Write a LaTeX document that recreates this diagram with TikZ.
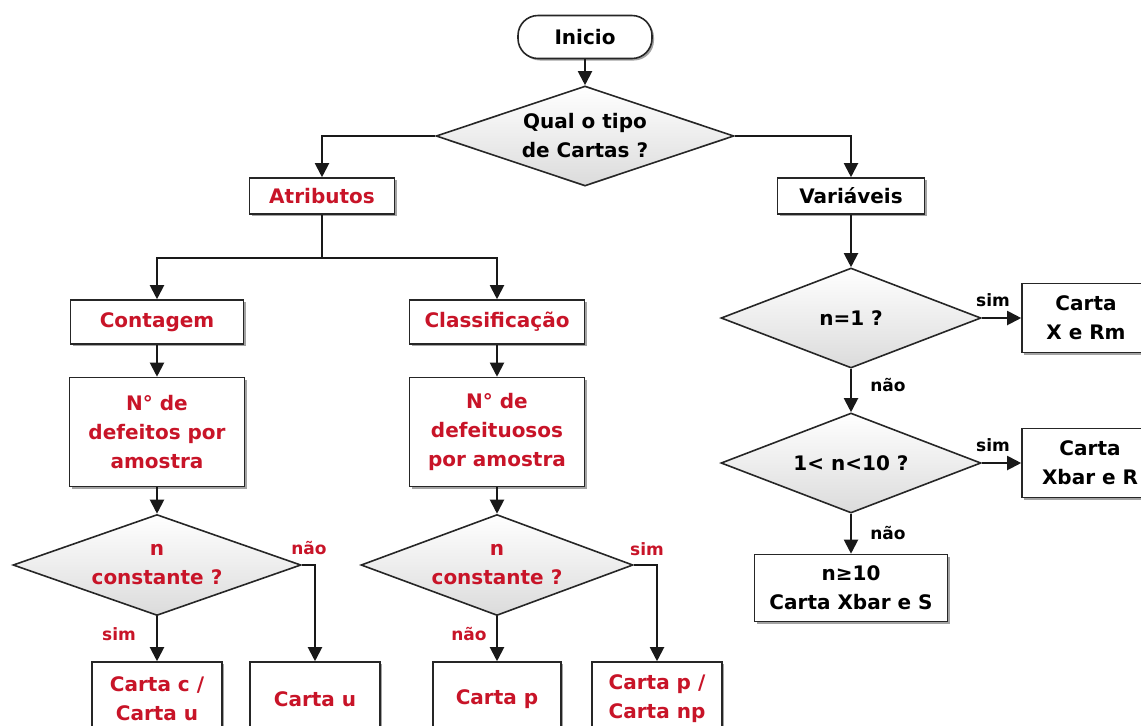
\documentclass[tikz,border=0pt]{standalone}
\usepackage{fontspec}
\setmainfont{DejaVu Sans}
\usetikzlibrary{shapes.geometric,arrows.meta,shadows}
\definecolor{cred}{RGB}{200,20,40}
\begin{document}
\begin{tikzpicture}[x=0.5pt,y=-0.5pt,
  every node/.style={font=\bfseries\fontsize{10}{14.5}\selectfont, align=center, inner sep=0pt},
  box/.style={rectangle, draw=black!85, line width=0.8pt, fill=white,
    drop shadow={shadow xshift=1pt,shadow yshift=-1pt,fill=black!45,opacity=0.8}},
  dia/.style={diamond, aspect=3, draw=black!85, line width=0.8pt, top color=white, middle color=white, bottom color=black!14},
  arr/.style={draw=black!90, line width=1pt, -{Triangle[length=7pt,width=7pt]}},
  ln/.style={draw=black!90, line width=1pt},
  lab/.style={font=\bfseries\fontsize{8.5}{10}\selectfont},
  red/.style={text=cred},
]
\useasboundingbox (0,0) rectangle (1141,725);
\clip (0,0) rectangle (1141,725);
% top
\node[box, rounded corners=10pt, minimum width=67pt, minimum height=21.5pt] (start) at (585,37) {Inicio};
\node[dia, minimum width=149pt, minimum height=50pt] (q) at (585,136) {Qual o tipo\\de Cartas ?};
\node[box, red, minimum width=72.5pt, minimum height=18pt] (atr) at (322,196) {Atributos};
\node[box, minimum width=73.5pt, minimum height=18pt] (var) at (851,196) {Variáveis};
% left branch
\coordinate (j1) at (322,258);
\node[box, red, minimum width=86.5pt, minimum height=22pt] (cont) at (157,322) {Contagem};
\node[box, red, minimum width=87.5pt, minimum height=22pt] (class) at (497,322) {Classificação};
\node[box, red, minimum width=87.5pt, minimum height=54.5pt] (ndef) at (157,432) {N° de\\defeitos por\\amostra};
\node[box, red, minimum width=87.5pt, minimum height=54.5pt] (ndefu) at (497,432) {N° de\\defeituosos\\por amostra};
\node[dia, red, minimum width=144pt, minimum height=50.5pt] (d1) at (157,565) {n\\constante ?};
\node[dia, red, minimum width=136pt, minimum height=50.5pt] (d2) at (497,565) {n\\constante ?};
\node[box, red, minimum width=65pt, minimum height=37pt] (cc) at (157,699) {Carta c /\\Carta u};
\node[box, red, minimum width=65pt, minimum height=37pt] (cu) at (315,699) {Carta u};
\node[box, red, minimum width=64pt, minimum height=37pt] (cp) at (497,699) {Carta p};
\node[box, red, minimum width=65pt, minimum height=37pt] (cnp) at (657,699) {Carta p /\\Carta np};
% right branch
\node[dia, minimum width=130pt, minimum height=50pt] (n1) at (851,318) {n=1 ?};
\node[dia, minimum width=130pt, minimum height=50pt] (n2) at (851,463) {1< n<10 ?};
\node[box, minimum width=64pt, minimum height=34.5pt] (xrm) at (1086,318) {Carta\\X e Rm};
\node[box, minimum width=68pt, minimum height=34.5pt] (xr) at (1090,463) {Carta\\Xbar e R};
\node[box, minimum width=96.5pt, minimum height=33.5pt] (n10) at (851,588) {n≥10\\Carta Xbar e S};
% connectors
\draw[arr] (start) -- (q);
\draw[arr] (q.west) -| (atr.north);
\draw[arr] (q.east) -| (var.north);
\draw[ln] (atr.south) -- (j1);
\draw[arr] (j1) -| (cont.north);
\draw[arr] (j1) -| (class.north);
\draw[arr] (cont) -- (ndef);
\draw[arr] (class) -- (ndefu);
\draw[arr] (ndef) -- (d1);
\draw[arr] (ndefu) -- (d2);
\draw[arr] (d1.south) -- (cc.north);
\draw[arr] (d1.east) -| (cu.north);
\draw[arr] (d2.south) -- (cp.north);
\draw[arr] (d2.east) -| (cnp.north);
\draw[arr] (var) -- (n1);
\draw[arr] (n1.east) -- (xrm.west);
\draw[arr] (n1.south) -- (n2.north);
\draw[arr] (n2.east) -- (xr.west);
\draw[arr] (n2.south) -- (n10.north);
% labels
\node[lab, red] (l1) at (309,548) {não};
\node[lab, red] (l2) at (119,634) {sim};
\node[lab, red] (l3) at (647,549) {sim};
\node[lab, red] (l4) at (469,634) {não};
\node[lab] (l5) at (993,300) {sim};
\node[lab] (l6) at (888,385) {não};
\node[lab] (l7) at (993,445) {sim};
\node[lab] (l8) at (888,533) {não};
\end{tikzpicture}
\end{document}
